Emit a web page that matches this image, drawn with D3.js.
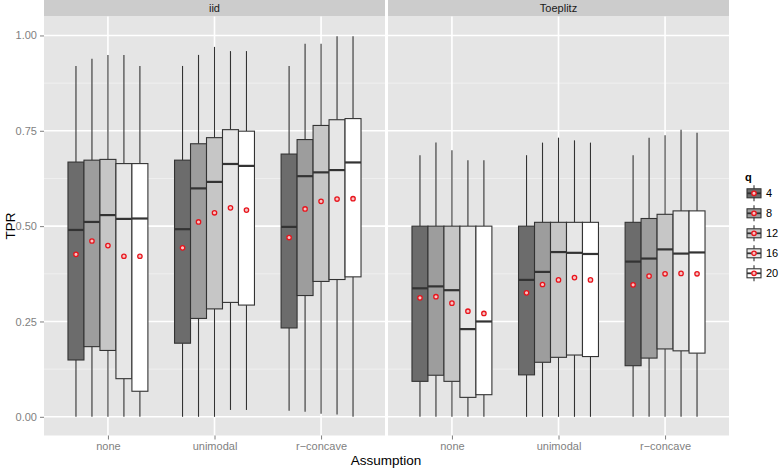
<!DOCTYPE html>
<html><head><meta charset="utf-8">
<script src="https://cdn.jsdelivr.net/npm/d3@7"></script>
<style>body{margin:0;background:#fff}svg{display:block}text{font-family:"Liberation Sans",Arial,sans-serif}</style>
</head><body><svg id="c" width="779" height="469"></svg>
<script>
const facets = ["iid", "Toeplitz"];
const categories = ["none", "unimodal", "r\u2212concave"];
const qLevels = ["4", "8", "12", "16", "20"];
const qFills = ["#6c6c6c", "#9d9d9d", "#c6c6c6", "#e7e7e7", "#ffffff"];
const yTicks = [0, 0.25, 0.5, 0.75, 1.0];
const yTickLabels = ["0.00", "0.25", "0.50", "0.75", "1.00"];

// order: none q4..q20, unimodal q4..q20, r-concave q4..q20
const iidLow    = [0, 0, 0, 0, 0,            0, 0, 0, 0.018, 0.018,           0.016, 0.013, 0.008, 0.006, 0];
const iidQ1     = [0.149, 0.184, 0.174, 0.100, 0.067,  0.193, 0.258, 0.283, 0.300, 0.293,  0.233, 0.318, 0.355, 0.360, 0.367];
const iidMedian = [0.490, 0.511, 0.529, 0.519, 0.520,  0.492, 0.599, 0.616, 0.663, 0.658,  0.498, 0.631, 0.641, 0.647, 0.667];
const iidQ3     = [0.668, 0.673, 0.675, 0.664, 0.664,  0.673, 0.716, 0.732, 0.753, 0.749,  0.689, 0.727, 0.764, 0.779, 0.782];
const iidHigh   = [0.920, 0.939, 0.949, 0.949, 0.920,  0.920, 0.949, 0.970, 0.959, 0.959,  0.920, 0.978, 0.978, 0.998, 0.998];
const iidMean   = [0.426, 0.461, 0.449, 0.421, 0.421,  0.443, 0.511, 0.535, 0.548, 0.542,  0.470, 0.545, 0.565, 0.571, 0.572];

const toeLow    = [0, 0, 0, 0, 0,  0, 0, 0, 0, 0,  0, 0, 0, 0, 0];
const toeQ1     = [0.093, 0.109, 0.093, 0.051, 0.058,  0.110, 0.143, 0.156, 0.162, 0.158,  0.134, 0.154, 0.178, 0.173, 0.167];
const toeMedian = [0.337, 0.342, 0.332, 0.230, 0.250,  0.359, 0.380, 0.432, 0.430, 0.427,  0.407, 0.415, 0.439, 0.428, 0.431];
const toeQ3     = [0.500, 0.500, 0.500, 0.500, 0.500,  0.500, 0.510, 0.510, 0.510, 0.510,  0.510, 0.520, 0.531, 0.540, 0.540];
const toeHigh   = [0.686, 0.719, 0.699, 0.673, 0.673,  0.686, 0.719, 0.732, 0.725, 0.719,  0.686, 0.732, 0.738, 0.753, 0.745];
const toeMean   = [0.312, 0.315, 0.298, 0.277, 0.271,  0.325, 0.347, 0.359, 0.365, 0.359,  0.346, 0.369, 0.375, 0.376, 0.375];

function build(low, q1, med, q3, high, mean) {
  const out = [];
  categories.forEach((c, ci) => qLevels.forEach((q, qi) => {
    const k = ci * qLevels.length + qi;
    out.push({cat: c, q: q, qi: qi, low: low[k], q1: q1[k], med: med[k], q3: q3[k], high: high[k], mean: mean[k]});
  }));
  return out;
}
const facetData = [
  build(iidLow, iidQ1, iidMedian, iidQ3, iidHigh, iidMean),
  build(toeLow, toeQ1, toeMedian, toeQ3, toeHigh, toeMean)
];

const svg = d3.select("#c");
const panelTop = 16.5, panelBottom = 435.5, stripTop = 0;
const panelX = [[44, 385], [388, 729]];
const y = d3.scaleLinear().domain([-0.049, 1.0497]).range([panelBottom, panelTop]);
const minorTicks = [0.125, 0.375, 0.625, 0.875];
const fill = d3.scaleOrdinal().domain(qLevels).range(qFills);

facets.forEach((f, fi) => {
  const [x0, x1] = panelX[fi];
  const x = d3.scalePoint().domain(categories).range([x0, x1]).padding(0.6);
  const step = x.step();
  const xq = d3.scaleBand().domain(qLevels).range([-0.375 * step, 0.375 * step]);
  const g = svg.append("g");
  // strip
  g.append("rect").attr("x", x0).attr("y", stripTop).attr("width", x1 - x0).attr("height", panelTop - stripTop).attr("fill", "#cccccc");
  g.append("text").attr("x", (x0 + x1) / 2).attr("y", 12).attr("text-anchor", "middle").attr("font-size", 11).attr("fill", "#1a1a1a").text(f);
  // panel
  g.append("rect").attr("x", x0).attr("y", panelTop).attr("width", x1 - x0).attr("height", panelBottom - panelTop).attr("fill", "#e5e5e5");
  g.selectAll(".minor").data(minorTicks).join("line")
    .attr("x1", x0).attr("x2", x1).attr("y1", d => y(d)).attr("y2", d => y(d))
    .attr("stroke", "#f2f2f2").attr("stroke-width", 0.8);
  g.selectAll(".majy").data(yTicks).join("line")
    .attr("x1", x0).attr("x2", x1).attr("y1", d => y(d)).attr("y2", d => y(d))
    .attr("stroke", "#ffffff").attr("stroke-width", 1.6);
  g.selectAll(".majx").data(categories).join("line")
    .attr("x1", d => x(d)).attr("x2", d => x(d)).attr("y1", panelTop).attr("y2", panelBottom)
    .attr("stroke", "#ffffff").attr("stroke-width", 1.6);

  const data = facetData[fi];
  const bw = xq.bandwidth();
  const cx = d => x(d.cat) + xq(d.q) + bw / 2;
  const boxes = g.selectAll(".box").data(data).join("g");
  boxes.append("line").attr("x1", cx).attr("x2", cx).attr("y1", d => y(d.high)).attr("y2", d => y(d.q3))
    .attr("stroke", "#333333").attr("stroke-width", 1.1);
  boxes.append("line").attr("x1", cx).attr("x2", cx).attr("y1", d => y(d.q1)).attr("y2", d => y(d.low))
    .attr("stroke", "#333333").attr("stroke-width", 1.1);
  boxes.append("rect").attr("x", d => x(d.cat) + xq(d.q)).attr("width", bw)
    .attr("y", d => y(d.q3)).attr("height", d => y(d.q1) - y(d.q3))
    .attr("fill", d => fill(d.q)).attr("stroke", "#333333").attr("stroke-width", 1.1);
  boxes.append("line").attr("x1", d => x(d.cat) + xq(d.q)).attr("x2", d => x(d.cat) + xq(d.q) + bw)
    .attr("y1", d => y(d.med)).attr("y2", d => y(d.med)).attr("stroke", "#333333").attr("stroke-width", 2.2);
  boxes.append("circle").attr("cx", cx).attr("cy", d => y(d.mean)).attr("r", 2.2)
    .attr("fill", "#f6c4c4").attr("stroke", "#e8141c").attr("stroke-width", 1.3);

  // x axis
  const ax = g.append("g").attr("transform", `translate(0,${panelBottom})`)
    .call(d3.axisBottom(x).tickSize(4).tickPadding(3));
  ax.select(".domain").remove();
  ax.selectAll(".tick line").attr("stroke", "#7f7f7f");
  ax.selectAll(".tick text").attr("fill", "#7f7f7f").attr("font-size", 11).attr("font-family", "Liberation Sans, Arial, sans-serif");

  if (fi === 0) {
    const ay = svg.append("g").attr("transform", `translate(${x0},0)`)
      .call(d3.axisLeft(y).tickValues(yTicks).tickFormat((d, i) => yTickLabels[i]).tickSize(4).tickPadding(3));
    ay.select(".domain").remove();
    ay.selectAll(".tick line").attr("stroke", "#7f7f7f");
    ay.selectAll(".tick text").attr("fill", "#7f7f7f").attr("font-size", 11).attr("font-family", "Liberation Sans, Arial, sans-serif");
  }
});

// axis titles
svg.append("text").attr("x", 386).attr("y", 465).attr("text-anchor", "middle").attr("font-size", 13.5).attr("fill", "#000").text("Assumption");
svg.append("text").attr("transform", "translate(15,226) rotate(-90)").attr("text-anchor", "middle").attr("font-size", 13.5).attr("fill", "#000").text("TPR");

// legend
const lg = svg.append("g");
lg.append("text").attr("x", 745).attr("y", 181).attr("font-size", 11).attr("font-weight", "bold").text("q");
const key = lg.selectAll(".key").data(qLevels).join("g")
  .attr("transform", (d, i) => `translate(746,${193.3 + i * 20})`);
key.append("line").attr("x1", 8).attr("x2", 8).attr("y1", -8).attr("y2", 8).attr("stroke", "#333").attr("stroke-width", 1.1);
key.append("rect").attr("x", 1).attr("y", -4.5).attr("width", 14).attr("height", 9).attr("fill", d => fill(d)).attr("stroke", "#333").attr("stroke-width", 1.1);
key.append("line").attr("x1", 1).attr("x2", 15).attr("y1", 0).attr("y2", 0).attr("stroke", "#333").attr("stroke-width", 1.8);
key.append("circle").attr("cx", 8).attr("cy", 0).attr("r", 2.2).attr("fill", "#f6c4c4").attr("stroke", "#e8141c").attr("stroke-width", 1.3);
key.append("text").attr("x", 20).attr("y", 4).attr("font-size", 11).attr("fill", "#000").text(d => d);
</script></body></html>
